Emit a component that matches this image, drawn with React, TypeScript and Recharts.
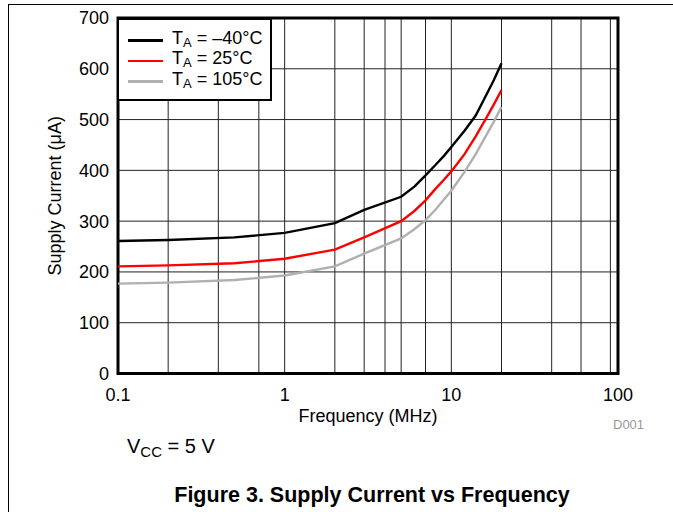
import React from "react";
import {
  LineChart,
  Line,
  XAxis,
  YAxis,
  CartesianGrid,
  Legend,
  ReferenceArea,
} from "recharts";

const FONT = '"Liberation Sans", Arial, sans-serif';

// frequency points (MHz)
const frequency = [0.1, 0.2, 0.5, 1, 2, 3, 5, 6, 7, 8, 9, 10, 12, 14, 16, 18, 20];

// supply current (uA) per temperature
const currentMinus40 = [261, 263, 268, 277, 296, 322, 348, 368, 390, 410, 428, 446, 478, 508, 545, 578, 611];
const current25 = [211, 213, 217, 226, 244, 268, 300, 320, 341, 363, 381, 398, 432, 467, 500, 530, 558];
const current105 = [177, 179, 184, 193, 211, 236, 266, 284, 302, 322, 342, 360, 397, 432, 466, 496, 525];

const xTicks = [0.1, 1, 10, 100];
const yTicks = [0, 100, 200, 300, 400, 500, 600, 700];
const xGrid = [
  0.2, 0.3, 0.4, 0.5, 0.6, 0.7, 0.8, 0.9, 1,
  2, 3, 4, 5, 6, 7, 8, 9, 10,
  20, 30, 40, 50, 60, 70, 80, 90,
];

const series = [
  { key: "m40", temp: "\u201340\u00b0C", color: "#000000" },
  { key: "t25", temp: "25\u00b0C", color: "#ff0000" },
  { key: "t105", temp: "105\u00b0C", color: "#b0b0b0" },
];

const data = frequency.map((f, i) => ({
  f,
  m40: currentMinus40[i],
  t25: current25[i],
  t105: current105[i],
}));

const LegendBox = () => (
  <div
    style={{
      background: "#fff",
      border: "2px solid #000",
      width: 155,
      height: 83,
      boxSizing: "border-box",
      padding: "10px 0 0 9px",
      fontFamily: FONT,
      fontSize: 18,
      color: "#000",
    }}
  >
    {series.map((s) => (
      <div key={s.key} style={{ display: "flex", alignItems: "center", height: 20.5 }}>
        <div style={{ width: 35, height: 2.5, background: s.color, marginRight: 9 }} />
        <span style={{ whiteSpace: "nowrap", lineHeight: "20px" }}>
          T<sub style={{ fontSize: 13, verticalAlign: "-3px" }}>A</sub> = {s.temp}
        </span>
      </div>
    ))}
  </div>
);

const App = () => {
  return (
    <div style={{ position: "absolute", left: 0, top: 0, width: 673, height: 512, background: "#fff", fontFamily: FONT }}>
      <div
        style={{
          position: "absolute",
          left: 8,
          top: 4,
          width: 665,
          height: 508,
          borderTop: "1px solid #000",
          borderLeft: "1px solid #000",
          boxSizing: "border-box",
        }}
      />
      <LineChart
        width={673}
        height={512}
        data={data}
        margin={{ top: 18, right: 55, bottom: 0, left: 0 }}
        style={{ position: "absolute", left: 0, top: 0 }}
      >
        <CartesianGrid stroke="#222" strokeWidth={1} verticalValues={xGrid} />
        <XAxis
          dataKey="f"
          type="number"
          scale="log"
          domain={[0.1, 100]}
          ticks={xTicks}
          allowDataOverflow
          height={138.5}
          axisLine={false}
          tickLine={false}
          tickSize={0}
          tickMargin={15}
          tick={{ fill: "#000", fontSize: 18, fontFamily: FONT }}
          label={{
            value: "Frequency (MHz)",
            position: "insideBottom",
            offset: 90,
            style: { fill: "#000", fontSize: 18, fontFamily: FONT },
          }}
        />
        <YAxis
          type="number"
          domain={[0, 700]}
          ticks={yTicks}
          width={118}
          axisLine={false}
          tickLine={false}
          tickSize={0}
          tickMargin={9}
          tick={{ fill: "#000", fontSize: 18, fontFamily: FONT }}
          label={{
            value: "Supply Current (\u03bcA)",
            angle: -90,
            position: "insideLeft",
            offset: 55,
            style: { textAnchor: "middle", fill: "#000", fontSize: 18, fontFamily: FONT },
          }}
        />
        <Legend
          layout="vertical"
          align="center"
          verticalAlign="middle"
          wrapperStyle={{ left: 117, top: 18, width: 155, height: 83 }}
          content={() => <LegendBox />}
        />
        {series.map((s) => (
          <Line
            key={s.key}
            dataKey={s.key}
            type="linear"
            stroke={s.color}
            strokeWidth={2.4}
            dot={false}
            isAnimationActive={false}
          />
        ))}
        <ReferenceArea x1={0.1} x2={100} y1={0} y2={700} fill="none" stroke="#000" strokeWidth={3} />
      </LineChart>
      <div style={{ position: "absolute", left: 613, top: 417, fontSize: 13, color: "#999" }}>D001</div>
      <div style={{ position: "absolute", left: 127, top: 435, fontSize: 20, color: "#000", whiteSpace: "nowrap" }}>
        V<sub style={{ fontSize: 15, verticalAlign: "-4px" }}>CC</sub> = 5 V
      </div>
      <div
        style={{
          position: "absolute",
          left: 0,
          width: 744,
          top: 483,
          textAlign: "center",
          fontSize: 21.5,
          fontWeight: "bold",
          color: "#000",
          whiteSpace: "nowrap",
        }}
      >
        Figure 3. Supply Current vs Frequency
      </div>
    </div>
  );
};

export default App;
